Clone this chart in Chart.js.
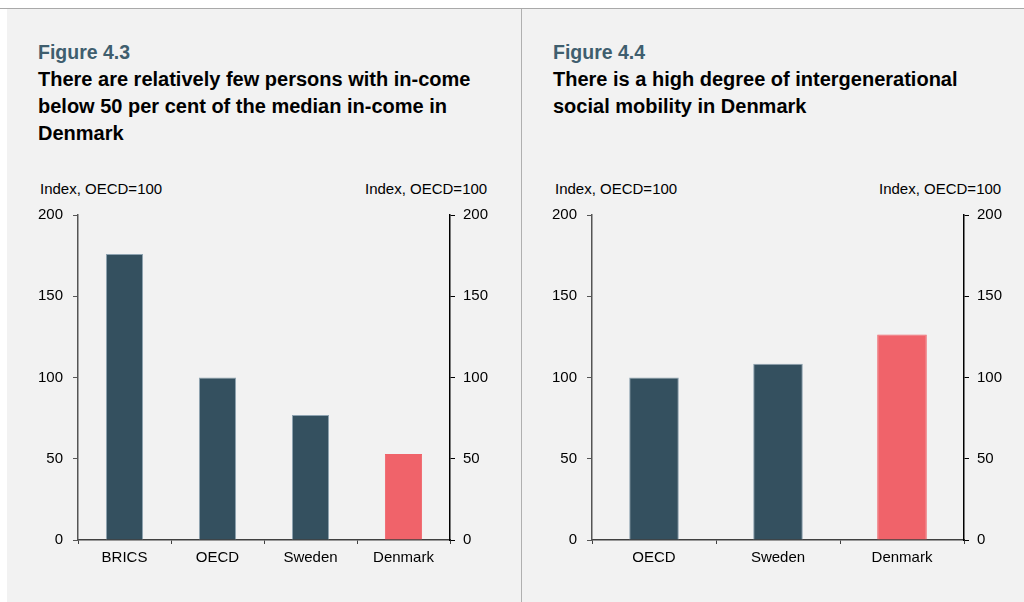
<!DOCTYPE html>
<html>
<head>
<meta charset="utf-8">
<script src="https://cdn.jsdelivr.net/npm/chart.js@4/dist/chart.umd.min.js"></script>
<style>
  html, body { margin: 0; padding: 0; background: #ffffff; }
  body { width: 1024px; height: 602px; position: relative; overflow: hidden; font-family: "Liberation Sans", Arial, sans-serif; }
  .topline { position: absolute; left: 0; top: 8px; width: 1024px; height: 1px; background: #a9a9a9; }
  .panel { position: absolute; top: 9px; height: 593px; background: #f2f2f2; }
  .divider { position: absolute; left: 521px; top: 9px; width: 1px; height: 593px; background: #b0b0b0; }
  .head { position: absolute; top: 39px; font-size: 20px; font-weight: bold; line-height: 27px; color: #000; white-space: nowrap; }
  .fig { color: #3f5e6e; font-size: 19.5px; }
  .unit { position: absolute; top: 180px; font-size: 15px; line-height: 18px; color: #000; white-space: nowrap; }
  canvas { position: absolute; }
</style>
</head>
<body>
<div class="topline"></div>
<div class="panel" style="left:7px; width:1017px;"></div>
<div class="divider"></div>

<div class="head" style="left:38px;"><span class="fig">Figure 4.3</span><br>There are relatively few persons with in-come<br>below 50 per cent of the median in-come in<br>Denmark</div>
<div class="head" style="left:553px;"><span class="fig">Figure 4.4</span><br>There is a high degree of intergenerational<br>social mobility in Denmark</div>

<div class="unit" style="left:40px;">Index, OECD=100</div>
<div class="unit" style="left:365px; width:122px; text-align:right;">Index, OECD=100</div>
<div class="unit" style="left:555px;">Index, OECD=100</div>
<div class="unit" style="left:879px; width:122px; text-align:right;">Index, OECD=100</div>

<canvas id="c1" width="470" height="384" style="left:30px; top:196px;"></canvas>
<canvas id="c2" width="470" height="384" style="left:544px; top:196px;"></canvas>

<script>
// ---- Data ----
const categories1 = ["BRICS", "OECD", "Sweden", "Denmark"];
const values1 = [176, 100, 77, 53];
const categories2 = ["OECD", "Sweden", "Denmark"];
const values2 = [100, 108.5, 126.5];
const highlightCategory = "Denmark";
const yMin = 0, yMax = 200, yStep = 50;

const DARK = "#34505f";
const DARK_EDGE = "#8ea3b1";
const RED = "#f0636a";
const FONT = { family: "'Liberation Sans', Arial, sans-serif", size: 15 };

function makeChart(id, cats, vals) {
  const colors = cats.map(c => c === highlightCategory ? RED : DARK);
  const edges = cats.map(c => c === highlightCategory ? RED : DARK_EDGE);
  return new Chart(document.getElementById(id), {
    type: "bar",
    data: {
      labels: cats,
      datasets: [{
        data: vals,
        backgroundColor: colors,
        borderColor: edges,
        borderWidth: 1,
        borderSkipped: "bottom",
        barPercentage: 0.4,
        categoryPercentage: 1.0
      }]
    },
    options: {
      responsive: false,
      animation: false,
      devicePixelRatio: 1,
      layout: { padding: { top: 0, bottom: 0, left: 0, right: 0 } },
      plugins: { legend: { display: false }, tooltip: { enabled: false } },
      scales: {
        x: {
          offset: true,
          grid: { display: true, drawOnChartArea: false, offset: true, tickLength: 4, color: "#404040", lineWidth: 1 },
          border: { display: true, color: "#404040", width: 1.5 },
          ticks: { color: "#000", font: FONT, padding: 5, maxRotation: 0 },
          afterFit: s => { s.height = 40; }
        },
        y: {
          position: "left",
          min: yMin, max: yMax,
          grid: { display: true, drawOnChartArea: false, tickLength: 5, color: "#555555", lineWidth: 1 },
          border: { display: true, color: "#555555", width: 1.5 },
          ticks: { stepSize: yStep, color: "#000", font: FONT, padding: 10 },
          afterFit: s => { s.width = 48; }
        },
        y2: {
          position: "right",
          min: yMin, max: yMax,
          grid: { display: true, drawOnChartArea: false, tickLength: 5, color: "#000000", lineWidth: 1 },
          border: { display: true, color: "#000000", width: 1.5 },
          ticks: { stepSize: yStep, color: "#000", font: FONT, padding: 8 },
          afterFit: s => { s.width = 50; }
        }
      }
    }
  });
}

makeChart("c1", categories1, values1);
makeChart("c2", categories2, values2);
</script>
</body>
</html>
